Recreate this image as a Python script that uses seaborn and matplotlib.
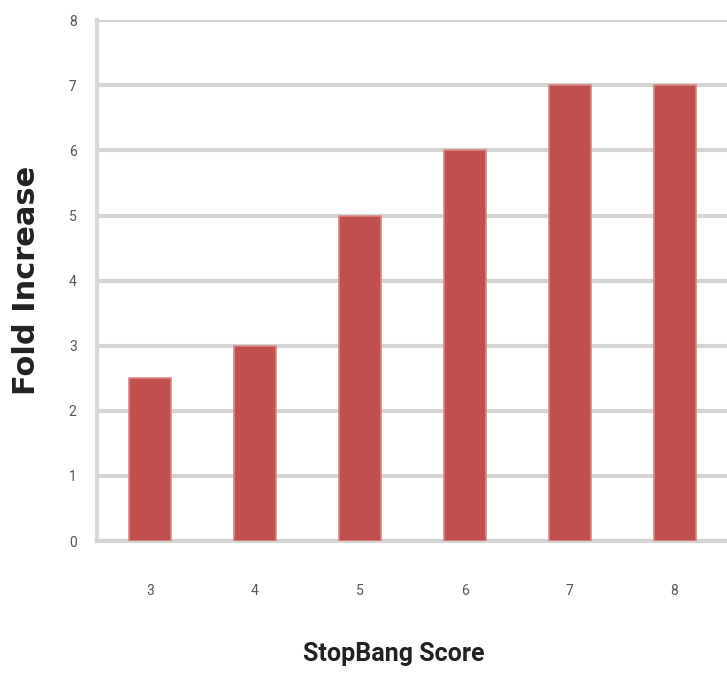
import matplotlib
matplotlib.use("Agg")
import matplotlib.pyplot as plt
import seaborn as sns
import pandas as pd

scores = ["3", "4", "5", "6", "7", "8"]
fold_increase = [2.5, 3, 5, 6, 7, 7]
y_ticks = [0, 1, 2, 3, 4, 5, 6, 7, 8]

sns.set_theme(style="white")
plt.rcParams["font.family"] = ["Roboto", "DejaVu Sans"]

df = pd.DataFrame({"score": scores, "fold": fold_increase})

fig = plt.figure(figsize=(7.27, 6.73), dpi=100)
ax = fig.add_axes([0.134, 0.196, 0.866, 0.774])

sns.barplot(data=df, x="score", y="fold", color="#c0504d", width=0.4,
            saturation=1, edgecolor="#d98886", linewidth=1.2, ax=ax, zorder=3)

ax.set_ylim(0, 8)
ax.set_xlim(-0.5, 5.5)
ax.set_yticks(y_ticks)
ax.set_yticklabels([str(t) for t in y_ticks])
ax.yaxis.grid(True, color="#d4d4d4", linewidth=3, zorder=0)
ax.set_axisbelow(True)

for side in ["top", "right"]:
    ax.spines[side].set_visible(False)
ax.spines["left"].set_color("#d8d8d8")
ax.spines["left"].set_linewidth(3)
ax.spines["bottom"].set_color("#d4d4d4")
ax.spines["bottom"].set_linewidth(3)

ax.tick_params(axis="y", length=0, pad=15, labelsize=10, labelcolor="#555555")
ax.tick_params(axis="x", length=0, pad=31, labelsize=10, labelcolor="#555555")

ax.set_xlabel("StopBang Score", fontsize=18, fontweight="bold", color="#222222")
ax.xaxis.set_label_coords(0.47, -0.193)
ax.set_ylabel("Fold Increase", fontsize=22, fontweight="bold", color="#222222",
              family=["DejaVu Sans"])
ax.yaxis.set_label_coords(-0.09, 0.5)

fig.savefig("out.png", dpi=100)
